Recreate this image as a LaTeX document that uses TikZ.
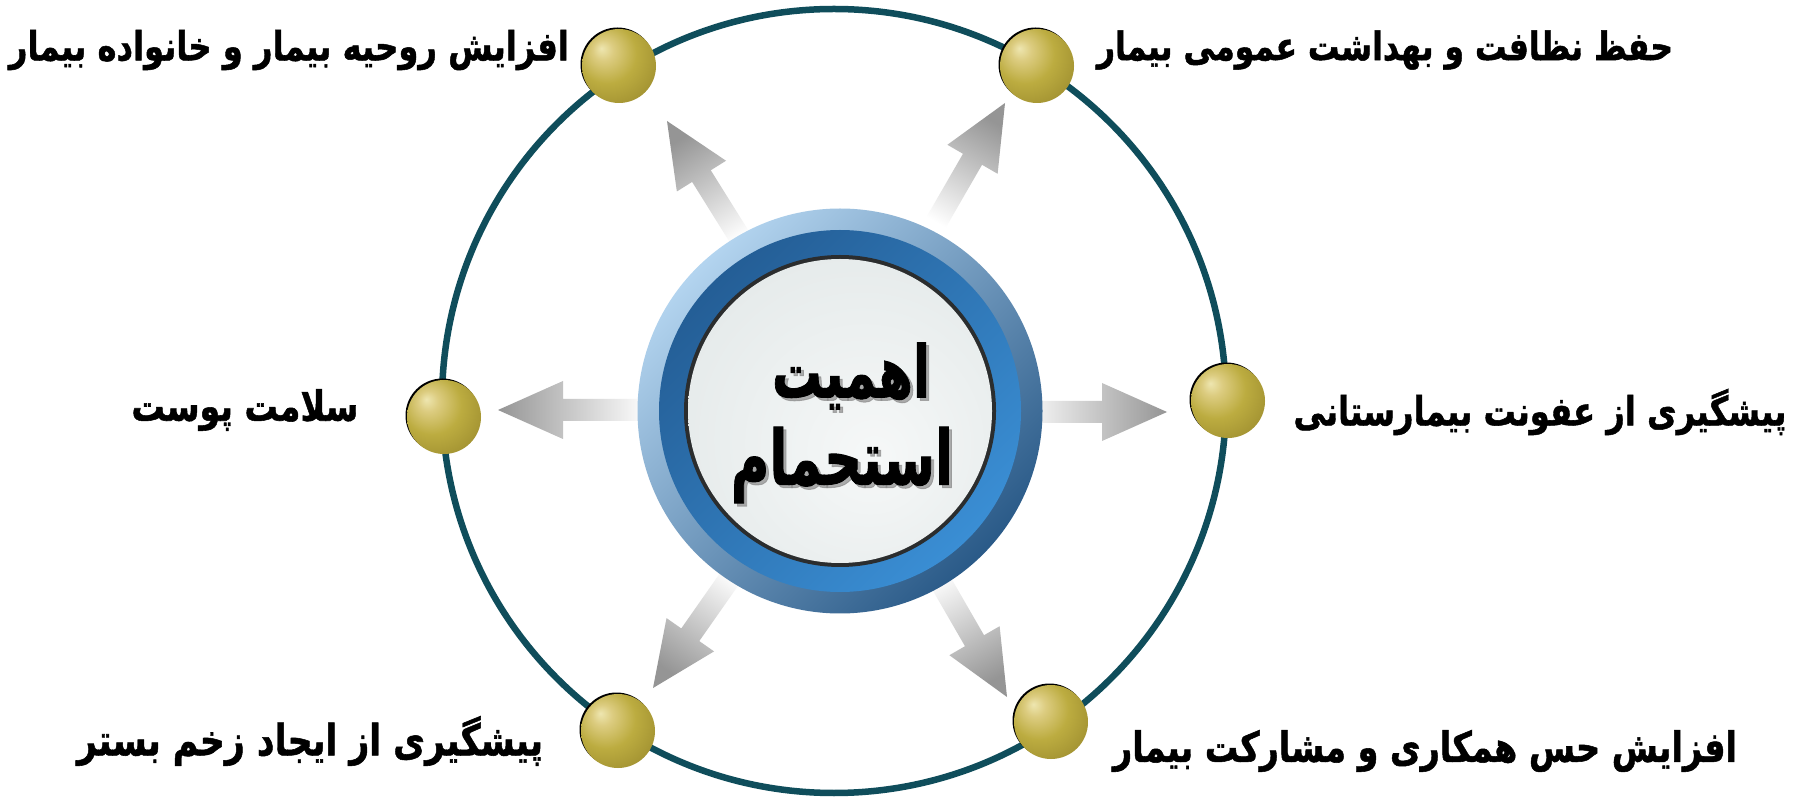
\documentclass[tikz,border=0pt]{standalone}
\usepackage{fontspec}
\usepackage{graphicx}
\usetikzlibrary{calc}
\TeXXeTstate=1
\newfontfamily\arabicfont[Script=Arabic,FakeBold=1.3]{DejaVu Sans Bold}
\definecolor{rimteal}{HTML}{0F4D5B}
\definecolor{ringA}{HTML}{B3D4EF}
\definecolor{ringM}{HTML}{3D84C5}
\definecolor{ringB}{HTML}{2A5A88}
\definecolor{bandA}{HTML}{245E96}
\definecolor{bandB}{HTML}{3A8ED4}
\definecolor{outl}{HTML}{2B2D2E}
\definecolor{gbA}{HTML}{EEE6B0}
\definecolor{gbB}{HTML}{DCCC80}
\definecolor{gbC}{HTML}{BCAC40}
\definecolor{gbD}{HTML}{A39332}
\definecolor{gbE}{HTML}{857828}
\definecolor{gbF}{HTML}{5E561C}
\definecolor{idA}{HTML}{F6F8F8}
\definecolor{idB}{HTML}{E6EBEB}
\definecolor{idC}{HTML}{D9DFDF}
\definecolor{idD}{HTML}{B9C2C3}
\definecolor{idE}{HTML}{949EA1}
\definecolor{arT}{HTML}{959595}
\definecolor{arM}{HTML}{C6C6C6}
\definecolor{arB}{HTML}{FFFFFF}
\pgfdeclareradialshading{goldball}{\pgfpoint{-12bp}{12bp}}{color(0bp)=(gbA); color(7bp)=(gbB); color(20bp)=(gbC); color(34bp)=(gbD); color(50bp)=(gbE); color(64bp)=(gbF)}
\pgfdeclareradialshading{innerdisk}{\pgfpoint{6bp}{-8bp}}{color(0bp)=(idA); color(30bp)=(idB); color(41bp)=(idC); color(47bp)=(idD); color(58bp)=(idE)}
\tikzset{
  lbl/.style={inner sep=0pt, font=\arabicfont, text=black},
  ctext/.style={inner sep=0pt, font=\arabicfont, text=black},
  cshadow/.style={inner sep=0pt, font=\arabicfont, text=black!45, opacity=0.7},
  ballnode/.style={circle, minimum size=74pt, inner sep=0pt, shading=goldball},
  arrowshade/.style={top color=arT, middle color=arM, bottom color=arB}
}
\newcommand\grayarrow[2]{%
  \pgfmathsetmacro\shAng{#2-90}%
  \shade[arrowshade, shading angle=\shAng]
    ($(#1)+(#2:-150)+(#2+90:11)$) --
    ($(#1)+(#2:-65)+(#2+90:11)$) --
    ($(#1)+(#2:-65)+(#2+90:29)$) --
    (#1) --
    ($(#1)+(#2:-65)+(#2-90:29)$) --
    ($(#1)+(#2:-65)+(#2-90:11)$) --
    ($(#1)+(#2:-150)+(#2-90:11)$) -- cycle;}
\newcommand\lab[2]{\scalebox{1}[1.25]{\resizebox{#1pt}{!}{#2}}}
\newcommand\ctr[2]{\scalebox{1}[1.45]{\resizebox{#1pt}{!}{#2}}}
\begin{document}
\begin{tikzpicture}[x=1pt,y=1pt]
\useasboundingbox (0,0) rectangle (1793,798);
\fill[white] (0,0) rectangle (1793,798);
% big circle
\coordinate (bigc) at (834,397);
\draw[rimteal, line width=6.5pt] (bigc) circle[radius=392];
% arrow tips
\coordinate (aTL) at (667,677);
\coordinate (aTR) at (1005,695);
\coordinate (aR) at (1167,386);
\coordinate (aL) at (498,388);
\coordinate (aBL) at (653,110);
\coordinate (aBR) at (1007,101);
\grayarrow{aTL}{122}
\grayarrow{aTR}{60}
\grayarrow{aR}{0}
\grayarrow{aL}{180}
\grayarrow{aBL}{235}
\grayarrow{aBR}{300}
% hub
\node[circle, minimum size=405pt, inner sep=0pt, top color=ringA, middle color=ringM, bottom color=ringB, shading angle=45] (hub) at (840,387) {};
\shade[top color=bandA, bottom color=bandB, shading angle=45] (hub.center) circle[radius=181];
\fill[outl] (hub.center) circle[radius=156];
\shade[shading=innerdisk] (hub.center) circle[radius=152];
% center text
\node[cshadow] (sh1) at (854,419) {\ctr{158}{\beginR اهمیت\endR}};
\node[cshadow] (sh2) at (845,330) {\ctr{222}{\beginR استحمام\endR}};
\node[ctext] (c1) at (851,422) {\ctr{158}{\beginR اهمیت\endR}};
\node[ctext] (c2) at (842,333) {\ctr{222}{\beginR استحمام\endR}};
% balls
\foreach \n/\p in {bTL/{(619,732)}, bTR/{(1037,732)}, bR/{(1228,397)}, bL/{(444,381)}, bBL/{(618,67)}, bBR/{(1051,76)}}{
  \fill[black] \p ++(-1.5,1.5) circle[radius=37];
  \node[ballnode] (\n) at \p {};
}
% labels
\node[lbl] (tTL) at (289,748) {\lab{560}{\beginR افزایش روحیه بیمار و خانواده بیمار\endR}};
\node[lbl] (tTR) at (1385,748) {\lab{576}{\beginR حفظ نظافت و بهداشت عمومی بیمار\endR}};
\node[lbl] (tR) at (1540,386) {\lab{493}{\beginR پیشگیری از عفونت بیمارستانی\endR}};
\node[lbl] (tL) at (245,388) {\lab{227}{\beginR سلامت پوست\endR}};
\node[lbl] (tBL) at (310,57) {\lab{466}{\beginR پیشگیری از ایجاد زخم بستر\endR}};
\node[lbl] (tBR) at (1425,47) {\lab{624}{\beginR افزایش حس همکاری و مشارکت بیمار\endR}};
\end{tikzpicture}
\end{document}
